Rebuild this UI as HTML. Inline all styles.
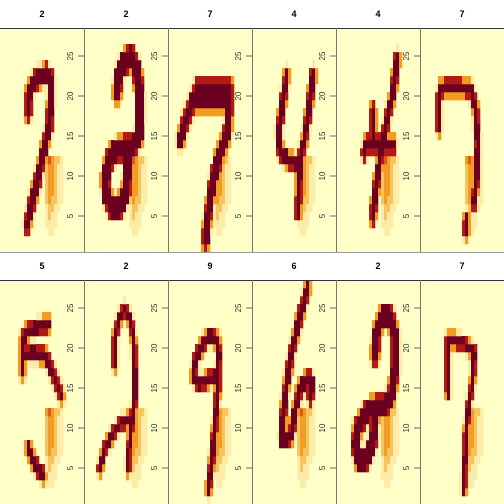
<!DOCTYPE html>
<html><head><meta charset="utf-8"><style>
html,body{margin:0;padding:0;background:#fff;}
svg{display:block;font-family:"Liberation Sans",sans-serif;}
</style></head><body>
<svg id="chart" width="504" height="504" viewBox="0 0 504 504"></svg>
<script>
const labels = ["2","2","7","4","4","7","5","2","9","6","2","7"];
const thickness = [0.9,1.2,1.0,0.75,0.75,0.65,0.65,0.55,0.65,0.75,1.1,0.55];
const strokes = [
 [[[9.4,17.5],[9.5,19.5],[10.5,20.8],[12.5,21.8],[15.5,22.3],[17,21.5],[17,19],[16.3,15.5],[14.5,12.5],[12.5,9],[10.5,6],[9,3.5]]],
 [[[11,20],[11.5,22],[13,23.5],[15.5,24.5],[17.5,23],[18.5,20],[18.7,17],[18.3,14.5],[16.5,13.3],[13,13],[10,12.5],[8,11],[7,9],[7.5,7],[9.5,5.5],[12,5.7],[14,7.5],[14.5,10],[14.5,13]]],
 [[[4,14],[6,16.5],[8.5,19],[10,20.5],[15,20.5],[20.5,20.5],[20.5,18],[19.8,15],[17,12],[15,9],[13.5,5],[12.5,1.5]],[[8,19],[20,19]]],
 [[[11.5,22],[10,18],[8.8,15],[9.5,12.5],[12,11.5],[15.3,11]],[[20.3,22],[19,18],[17.5,14],[16,11.5],[15.3,5]]],
 [[[20.3,24],[19,20],[17,16.5],[15.5,13.5],[14,10],[12.7,6],[12.3,4.5]],[[9.5,12.5],[10,13.5],[15,13.5],[19,13.3]],[[12.3,17.5],[12.3,14]]],
 [[[6.3,15.5],[6.3,19],[7,20.5],[12,20.7],[17,20.3],[18.5,18],[19.2,14],[19,10],[18,6]],[[15.5,4],[15.3,2.5]]],
 [[[16,22.5],[12,22],[9,21.5],[7.5,20.5],[7.5,17.5],[7.5,16.5]],[[8,18.5],[11,19],[15,18.5],[17.5,16.5],[19.5,14.5],[20.5,13.5]],[[9.5,7],[11,5.5],[13,4],[14.5,3.5]]],
 [[[10.3,17.5],[10.3,21],[12,23.5],[13.7,24.2],[15.5,23],[16.5,21],[17,17],[17,13],[16,10.5],[13,10.3],[11,9.5],[8.5,8],[6.5,6.5],[5.3,4.5]],[[16,10.5],[15,7],[14.7,4.5]]],
 [[[16.5,16],[17,18.5],[16.5,20.5],[14,21],[11.5,20],[9,18],[8.5,16],[10,15],[13,15.5],[16.5,16]],[[16.8,16],[16.3,13],[15.5,9],[14.5,5],[13.5,1.8]]],
 [[[18.5,27],[16,23.5],[13.5,19.5],[11.5,15],[10.3,11],[10,8]],[[10,8],[13,8.5],[14.5,12],[16,14.5],[19,15.8],[20,15],[19.5,13.5]]],
 [[[13,18.5],[13.5,21.5],[15.5,23.5],[18,23.5],[19.8,21],[19.7,17],[18.5,13.5],[16,12.3],[12,12],[9.5,11],[7,9.5],[6.5,7],[7.5,5.5],[10,5.5],[12.5,8],[13,11],[13,12]]],
 [[[9.3,14],[9.3,20.5],[11,20.5],[15,20],[18,19],[17.7,16],[16.5,13],[15.3,9],[14.7,2]]]
];
const blobCols = [15,16,17,18,19,20,21];
const blobRows = [12,11,10,9,8,7,6,5,4,3];
const blobVals = [
 [3,4,3,2,2,1,0],[2,3,3,2,1,1,0],[2,3,3,2,1,1,0],[2,3,3,2,1,1,0],[2,3,3,2,1,1,0],
 [2,3,2,2,1,1,0],[1,2,2,1,1,0,0],[1,2,1,1,0,0,0],[1,1,1,1,0,0,0],[0,1,1,0,0,0,0]
];
const palette = ["#FFFFC8","#FDEBA8","#F7C560","#F39C22","#E0581A","#B41A14","#6B0020"];
const yTicks = [5,10,15,20,25];

const NS="http://www.w3.org/2000/svg";
const svg=document.getElementById('chart');
function mk(t,a,p){const e=document.createElementNS(NS,t);for(const k in a)e.setAttribute(k,a[k]);(p||svg).appendChild(e);return e;}
function segDist(px,py,ax,ay,bx,by){const dx=bx-ax,dy=by-ay;const L=dx*dx+dy*dy;let t=L?((px-ax)*dx+(py-ay)*dy)/L:0;t=Math.max(0,Math.min(1,t));const x=ax+t*dx-px,y=ay+t*dy-py;return Math.sqrt(x*x+y*y);}
const panelW=84, cellW=3, cellH=8, plotH=224;
const xScale=(c,x0)=>x0+c*cellW;
const yScale=(v,y0)=>y0+plotH-v*cellH;

labels.forEach((lab,i)=>{
  const col=i%6,row=Math.floor(i/6);
  const x0=col*panelW, top=row*252, y0=top+28;
  const g=mk('g',{});
  
  
  const bg=mk('rect',{x:x0,y:y0,width:panelW,height:plotH,fill:palette[0]},g);
  
  
  const grid=[];for(let c=0;c<28;c++){grid[c]=[];for(let v=1;v<=28;v++)grid[c][v]=0;}
  blobRows.forEach((v,ri)=>blobCols.forEach((c,ci)=>{grid[c][v]=Math.max(grid[c][v],blobVals[ri][ci]);}));
  const t=thickness[i];
  for(let c=0;c<28;c++)for(let v=1;v<=28;v++){
    const cx=c+0.5,cy=v-0.5;let d=1e9;
    strokes[i].forEach(s=>{for(let k=0;k<s.length-1;k++)d=Math.min(d,segDist(cx,cy,s[k][0],s[k][1],s[k+1][0],s[k+1][1]));});
    let lv=0;if(d<t)lv=6;else if(d<t+0.3)lv=5;else if(d<t+0.55)lv=3;else if(d<t+0.8)lv=1;
    grid[c][v]=Math.max(grid[c][v],lv);
  }
  for(let c=0;c<28;c++)for(let v=1;v<=28;v++){
    if(!grid[c][v])continue;
    const r=mk('rect',{x:xScale(c,x0),y:yScale(v,y0),width:cellW+0.3,height:cellH+0.3,fill:palette[grid[c][v]]},g);
    
    
  }
  const strip=mk('rect',{x:x0,y:top,width:panelW,height:28,fill:"#fff"},g);
  
  
  const tt=mk('text',{x:x0+42,y:top+17,'text-anchor':'middle','font-size':9,'font-weight':'bold',fill:'#000'},g);
  tt.textContent=lab;
  
  
  mk('line',{x1:x0,x2:x0+panelW,y1:top+28.5,y2:top+28.5,stroke:'#333','stroke-width':1},g);
  if(col<5){
    yTicks.forEach(v=>{
      const y=y0+plotH-(v-0.5)*cellH;
      mk('line',{x1:x0+78,x2:x0+84,y1:y,y2:y,stroke:'#444','stroke-width':0.8},g);
      const tl=mk('text',{x:0,y:0,transform:`translate(${x0+73},${y}) rotate(-90)`,'text-anchor':'middle','font-size':8,fill:'#333'},g);
      tl.textContent=v;
      
      
    });
  }
});
for(let row=0;row<2;row++)for(let col=1;col<6;col++){
  const l=mk('line',{x1:col*84+0.5,x2:col*84+0.5,y1:row*252+28,y2:row*252+252,stroke:'#777','stroke-width':1});
  
  
}
mk('line',{x1:0,x2:504,y1:252.5,y2:252.5,stroke:'#999','stroke-width':1});
</script>
</body></html>
